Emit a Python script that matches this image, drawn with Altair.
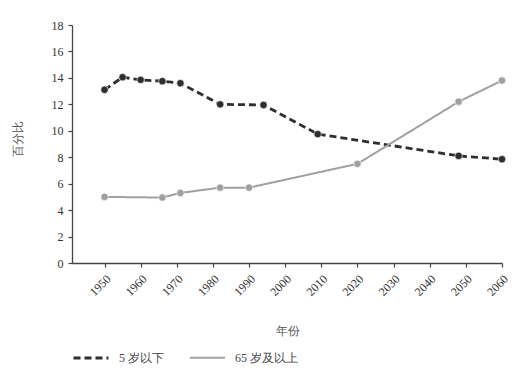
import altair as alt
import pandas as pd

series_names = ["5 岁以下", "65 岁及以上"]
years_u5 = [1950, 1955, 1960, 1966, 1971, 1982, 1994, 2009, 2048, 2060]
vals_u5 = [13.1, 14.05, 13.85, 13.75, 13.6, 12.0, 11.95, 9.75, 8.1, 7.85]
years_65 = [1950, 1966, 1971, 1982, 1990, 2020, 2048, 2060]
vals_65 = [5.0, 4.95, 5.3, 5.7, 5.7, 7.5, 12.2, 13.8]
x_ticks = [1950, 1960, 1970, 1980, 1990, 2000, 2010, 2020, 2030, 2040, 2050, 2060]
y_ticks = [0, 2, 4, 6, 8, 10, 12, 14, 16, 18]

df = pd.DataFrame(
    {"year": years_u5 + years_65,
     "value": vals_u5 + vals_65,
     "series": [series_names[0]] * len(years_u5) + [series_names[1]] * len(years_65)}
)

FONT = "Liberation Serif"
colors = ["#2e2e2e", "#a0a0a0"]

x = alt.X("year:Q", scale=alt.Scale(domain=[1941, 2060], nice=False, zero=False),
          axis=alt.Axis(values=x_ticks, format="d", labelAngle=-45, title="年份",
                        titleX=215, titleY=67, titleBaseline="middle", titleAlign="center",
                        labelFlush=False, labelPadding=6, grid=False))
y = alt.Y("value:Q", scale=alt.Scale(domain=[0, 18], nice=False),
          axis=alt.Axis(values=y_ticks, title="百分比", titleX=-55, titleY=113,
                        titleBaseline="middle", titleAlign="center", titleAngle=-90,
                        labelPadding=5, grid=False))

base = alt.Chart(df)

lines = base.mark_line().encode(
    x=x, y=y,
    color=alt.Color("series:N", scale=alt.Scale(domain=series_names, range=colors),
                    sort=series_names,
                    legend=alt.Legend(title=None, orient="none", legendX=0, legendY=314,
                                      direction="horizontal", symbolType="stroke",
                                      symbolSize=1225, labelOffset=9, columnPadding=22,
                                      padding=0)),
    strokeDash=alt.StrokeDash("series:N", scale=alt.Scale(domain=series_names, range=[[7, 4], [1, 0]]),
                              sort=series_names),
    strokeWidth=alt.StrokeWidth("series:N", scale=alt.Scale(domain=series_names, range=[2.8, 2.0]),
                                sort=series_names),
)

points = base.mark_point(filled=True, size=55, opacity=1, stroke="white", strokeWidth=0.6).encode(
    x=x, y=y,
    fill=alt.Fill("series:N", scale=alt.Scale(domain=series_names, range=colors), legend=None),
)

chart = (lines + points).properties(
    width=430, height=238,
    background="white",
    autosize=alt.AutoSizeParams(type="none"),
    padding={"left": 64, "top": 17, "right": 15, "bottom": 120},
).configure_view(stroke=None).configure_axis(
    labelFont=FONT, titleFont=FONT, labelFontSize=12, titleFontSize=12,
    labelColor="#333333", titleColor="#555555", domainColor="#444444",
    tickColor="#444444", domainWidth=1.3, tickWidth=1.2, tickSize=4,
    titleFontWeight="normal",
).configure_legend(
    labelFont=FONT, labelFontSize=12, labelColor="#444444",
)

chart.save("out.html", embed_options={"renderer": "svg", "actions": False})
